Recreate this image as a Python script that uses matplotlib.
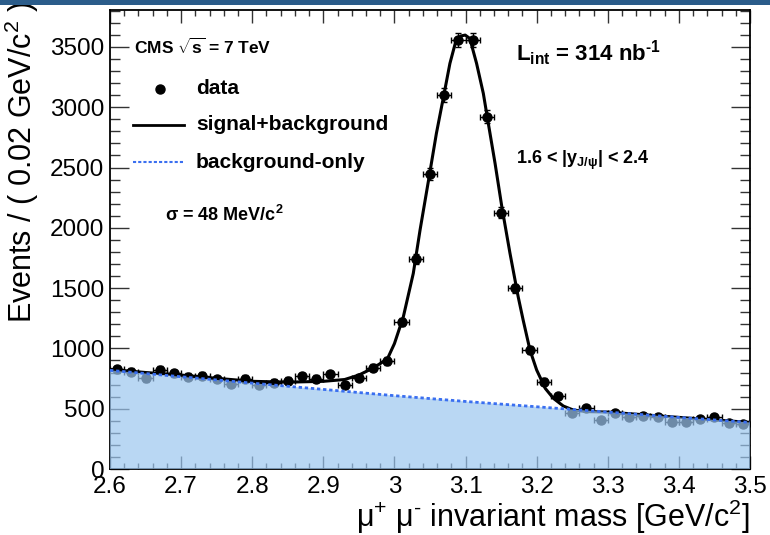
import matplotlib
matplotlib.use("Agg")
import matplotlib.pyplot as plt
from matplotlib.lines import Line2D
from matplotlib.patches import Rectangle
from matplotlib.ticker import MultipleLocator, FixedLocator

plt.rcParams['font.family'] = ['Liberation Sans', 'DejaVu Sans']
plt.rcParams['mathtext.fontset'] = 'custom'
plt.rcParams['mathtext.rm'] = 'Liberation Sans'
plt.rcParams['mathtext.bf'] = 'Liberation Sans:bold'
plt.rcParams['mathtext.it'] = 'Liberation Sans:italic'
plt.rcParams['mathtext.default'] = 'regular'

# ---- data ----
mass = [2.61, 2.63, 2.65, 2.67, 2.69, 2.71, 2.73, 2.75, 2.77, 2.79,
        2.81, 2.83, 2.85, 2.87, 2.89, 2.91, 2.93, 2.95, 2.97, 2.99,
        3.01, 3.03, 3.05, 3.07, 3.09, 3.11, 3.13, 3.15, 3.17, 3.19,
        3.21, 3.23, 3.25, 3.27, 3.29, 3.31, 3.33, 3.35, 3.37, 3.39,
        3.41, 3.43, 3.45, 3.47, 3.49]
events = [829, 807, 752, 821, 793, 765, 774, 746, 705, 749,
          696, 716, 732, 771, 749, 788, 696, 757, 840, 895,
          1219, 1738, 2446, 3100, 3557, 3557, 2921, 2125, 1498, 986,
          724, 605, 467, 503, 406, 462, 434, 440, 434, 392,
          392, 412, 434, 379, 371]
events_err = [29, 28, 27, 29, 28, 28, 28, 27, 27, 27,
              26, 27, 27, 28, 27, 28, 26, 28, 29, 30,
              35, 42, 49, 56, 60, 60, 54, 46, 39, 31,
              27, 25, 22, 22, 20, 21, 21, 21, 21, 20,
              20, 20, 21, 19, 19]
bin_half_width = [0.01] * len(mass)

fit_x = [2.600, 2.650, 2.700, 2.750, 2.800, 2.850, 2.900, 2.930, 2.950, 2.970,
         2.990, 3.000, 3.0125, 3.0265, 3.036, 3.048, 3.059, 3.069, 3.078, 3.0855,
         3.093, 3.0995, 3.106, 3.1155, 3.125, 3.132, 3.1415, 3.151, 3.1625, 3.174,
         3.181, 3.1906, 3.200, 3.212, 3.2235, 3.2375, 3.2515, 3.270, 3.300, 3.350,
         3.400, 3.450, 3.500]
fit_y = [826, 800, 779, 752, 727, 720, 727, 742, 779, 837,
         912, 1040, 1262, 1622, 1981, 2396, 2783, 3086, 3363, 3529,
         3590, 3598, 3570, 3363, 3114, 2866, 2534, 2175, 1788, 1428,
         1235, 986, 821, 669, 586, 522, 489, 476, 472, 450,
         428, 407, 386]

bkg_x = [2.6, 2.7, 2.8, 2.9, 3.0, 3.1, 3.2, 3.3, 3.4, 3.5]
bkg_y = [818, 765, 712, 660, 608, 560, 516, 472, 428, 386]

xticks = [2.6, 2.7, 2.8, 2.9, 3.0, 3.1, 3.2, 3.3, 3.4, 3.5]
xtick_labels = ["2.6", "2.7", "2.8", "2.9", "3", "3.1", "3.2", "3.3", "3.4", "3.5"]
yticks = [0, 500, 1000, 1500, 2000, 2500, 3000, 3500]

W, H = 770, 535
fig = plt.figure(figsize=(W / 100, H / 100), dpi=100)
ax = fig.add_axes([110 / W, 1 - 469 / H, 640 / W, 459 / H])

# data points
ax.errorbar(mass, events, yerr=events_err, xerr=bin_half_width, fmt='o',
            color='black', markersize=6.5, elinewidth=1.0, capsize=2.2,
            capthick=1.0, zorder=2)
# signal + background fit
ax.plot(fit_x, fit_y, color='black', lw=2.2, zorder=3)
# background-only fill and line
ax.fill_between(bkg_x, 0, bkg_y, facecolor='#9cc6ef', alpha=0.7,
                edgecolor='none', zorder=4)
ax.plot(bkg_x, bkg_y, color='#3a6ff0', lw=2.0, ls=(0, (1.2, 1.0)), zorder=5)

ax.set_xlim(2.6, 3.5)
ax.set_ylim(0, 3806)

ax.xaxis.set_major_locator(FixedLocator(xticks))
ax.set_xticklabels(xtick_labels)
ax.xaxis.set_minor_locator(MultipleLocator(0.02))
ax.yaxis.set_major_locator(FixedLocator(yticks))
ax.yaxis.set_minor_locator(MultipleLocator(100))

ax.tick_params(axis='both', which='both', direction='in', top=True, right=True,
               color='#333333', width=1.0, labelsize=17.5)
ax.tick_params(axis='x', which='major', length=9.5, pad=5)
ax.tick_params(axis='x', which='minor', length=4.5)
ax.tick_params(axis='y', which='major', length=13.5, pad=4)
ax.tick_params(axis='y', which='minor', length=7)
for s in ax.spines.values():
    s.set_linewidth(1.3)

ax.set_xlabel("μ$^{+}$ μ$^{\u2010}$ invariant mass [GeV/c$^{2}$]", fontsize=22,
              loc='right')
ax.xaxis.set_label_coords(1.0, -0.062)
ax.set_ylabel(r"Events / ( 0.02 GeV/c$^{2}$ )", fontsize=22, loc='top')
ax.yaxis.set_label_coords(-0.108, 1.02)

def fx(px):
    return px / W

def fy(py):
    return 1 - py / H

# annotations
fig.text(fx(134), fy(47), r"CMS $\sqrt{s}$ = 7 TeV", fontsize=12.5,
         fontweight='bold', va='center', ha='left')
fig.text(fx(165), fy(215), "σ = 48 MeV/c$^{2}$", fontsize=13,
         fontweight='bold', va='center', ha='left')
fig.text(fx(516), fy(53), "L$_{int}$ = 314 nb$^{\u20101}$", fontsize=16,
         fontweight='bold', va='center', ha='left')
fig.text(fx(516), fy(160), "1.6 < |y$_{J/ψ}$| < 2.4", fontsize=13,
         fontweight='bold', va='center', ha='left')

# legend
fig.add_artist(Line2D([fx(160)], [fy(89)], marker='o', color='black',
                      markersize=6.5, transform=fig.transFigure))
fig.text(fx(196), fy(89), "data", fontsize=15, fontweight='bold',
         va='center', ha='left')
fig.add_artist(Line2D([fx(133), fx(184)], [fy(125), fy(125)], color='black',
                      lw=2.0, transform=fig.transFigure))
fig.text(fx(196), fy(125), "signal+background", fontsize=15, fontweight='bold',
         va='center', ha='left')
fig.add_artist(Line2D([fx(133), fx(183)], [fy(162), fy(162)], color='#3a6ff0',
                      lw=1.5, ls=(0, (1.5, 1.0)), transform=fig.transFigure))
fig.text(fx(196), fy(162), "background-only", fontsize=15, fontweight='bold',
         va='center', ha='left')

# header strip
fig.add_artist(Rectangle((0, fy(5)), 1, 5 / H, transform=fig.transFigure,
                         facecolor='#2b5c8a', edgecolor='none', zorder=10))

fig.savefig("out.png", dpi=100)
